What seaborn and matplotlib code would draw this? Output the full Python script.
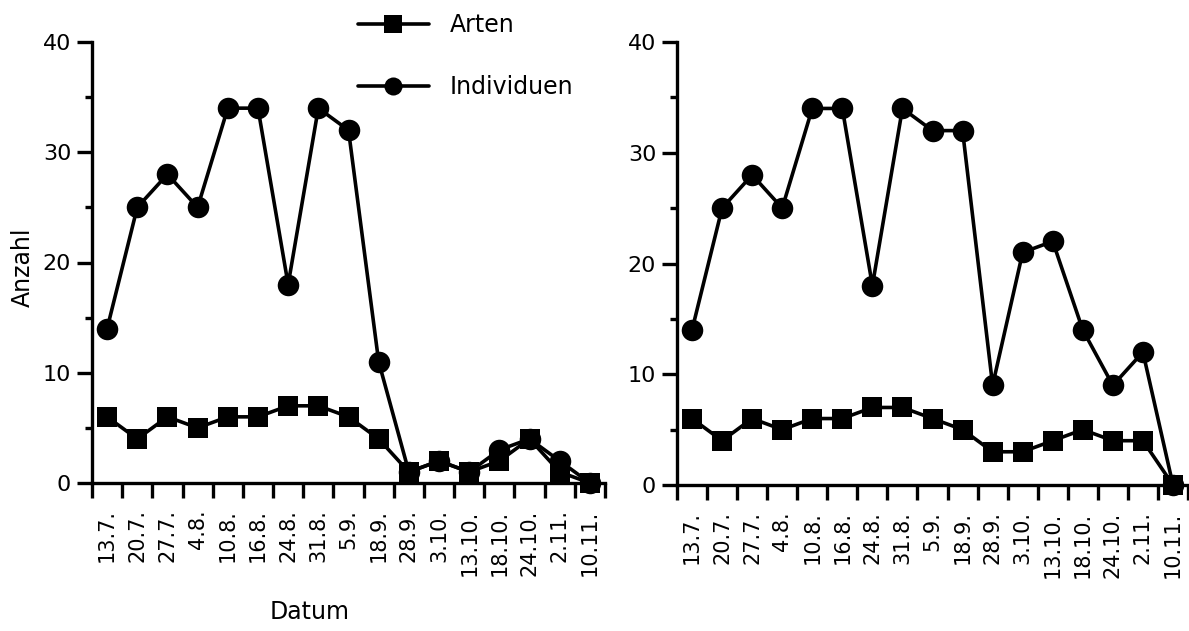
import matplotlib
matplotlib.use("Agg")
import matplotlib.pyplot as plt
from matplotlib.lines import Line2D
import seaborn as sns
import pandas as pd
import numpy as np

dates = ["13.7.", "20.7.", "27.7.", "4.8.", "10.8.", "16.8.", "24.8.", "31.8.", "5.9.",
         "18.9.", "28.9.", "3.10.", "13.10.", "18.10.", "24.10.", "2.11.", "10.11."]

left_individuen = [14, 25, 28, 25, 34, 34, 18, 34, 32, 11, 1, 2, 1, 3, 4, 2, 0]
left_arten      = [6, 4, 6, 5, 6, 6, 7, 7, 6, 4, 1, 2, 1, 2, 4, 1, 0]
right_individuen = [14, 25, 28, 25, 34, 34, 18, 34, 32, 32, 9, 21, 22, 14, 9, 12, 0]
right_arten      = [6, 4, 6, 5, 6, 6, 7, 7, 6, 5, 3, 3, 4, 5, 4, 4, 0]

y_major = [0, 10, 20, 30, 40]
y_minor = [5, 15, 25, 35]

sns.set_style("ticks")
plt.rcParams["font.family"] = ["DejaVu Sans"]
for k in ("text.color", "axes.edgecolor", "axes.labelcolor", "xtick.color", "ytick.color"):
    plt.rcParams[k] = "black"

W, H = 1189, 631
fig = plt.figure(figsize=(W / 100, H / 100), dpi=100)

ax_l = fig.add_axes([92 / W, 1 - 483 / H, (605 - 92) / W, 441 / H])
ax_r = fig.add_axes([677 / W, 1 - 485 / H, (1188 - 677) / W, 443 / H])

pos = np.arange(len(dates))

def draw(ax, indiv, arten):
    df = pd.DataFrame({"pos": np.concatenate([pos, pos]),
                       "wert": indiv + arten,
                       "serie": ["Individuen"] * len(pos) + ["Arten"] * len(pos)})
    sns.lineplot(data=df[df.serie == "Individuen"], x="pos", y="wert", ax=ax,
                 color="black", marker="o", markersize=15.5, linewidth=2.6,
                 markeredgewidth=0, clip_on=False, legend=False, zorder=3)
    sns.lineplot(data=df[df.serie == "Arten"], x="pos", y="wert", ax=ax,
                 color="black", marker="s", markersize=14.5, linewidth=2.6,
                 markeredgewidth=0, clip_on=False, legend=False, zorder=4)
    ax.set_xlim(-0.5, len(dates) - 0.5)
    ax.set_ylim(0, 40)
    ax.set_xticks(pos)
    ax.set_xticklabels(dates, rotation=90, fontsize=15)
    ax.set_xticks(np.arange(len(dates) + 1) - 0.5, minor=True)
    ax.tick_params(axis="x", which="major", length=0, pad=19)
    ax.tick_params(axis="x", which="minor", length=11, width=2.4, direction="out")
    ax.set_yticks(y_major)
    ax.set_yticks(y_minor, minor=True)
    ax.set_yticklabels([str(v) for v in y_major], fontsize=16)
    ax.tick_params(axis="y", which="major", length=11, width=2.4, pad=4)
    ax.tick_params(axis="y", which="minor", length=5, width=2.4)
    ax.set_xlabel("")
    ax.set_ylabel("")
    sns.despine(ax=ax)
    for s in ("left", "bottom"):
        ax.spines[s].set_linewidth(2.4)
    ax.set_facecolor("none")

draw(ax_l, left_individuen, left_arten)
draw(ax_r, right_individuen, right_arten)

fig.text(23 / W, 1 - 267 / H, "Anzahl", rotation=90, ha="center", va="center", fontsize=17)
fig.text(310 / W, 1 - 612 / H, "Datum", ha="center", va="center", fontsize=17)

handles = [Line2D([], [], color="black", marker="s", markersize=13, linewidth=2.6, markeredgewidth=0),
           Line2D([], [], color="black", marker="o", markersize=13, linewidth=2.6, markeredgewidth=0)]
fig.legend(handles, ["Arten", "Individuen"], loc="upper left",
           bbox_to_anchor=(358 / W, 1 - 13 / H), frameon=False, fontsize=17,
           handlelength=3.0, handletextpad=0.9, labelspacing=1.6,
           borderpad=0, borderaxespad=0)

fig.savefig("out.png", dpi=100)
